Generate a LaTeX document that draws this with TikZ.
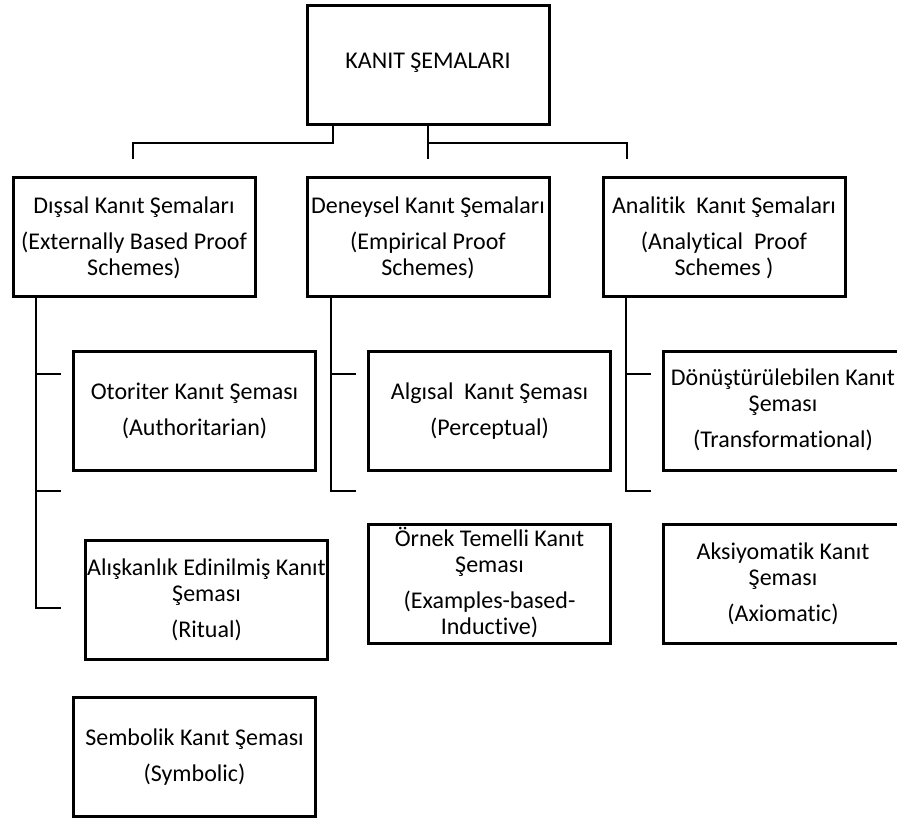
\documentclass[tikz,border=0pt]{standalone}
\usepackage{fontspec}
\setmainfont{Carlito}[Ligatures={NoCommon}]
\begin{document}
\begin{tikzpicture}[x=1pt,y=-1pt,
  box/.style={draw,line width=3pt,inner sep=0pt,outer sep=0pt,minimum width=242pt,minimum height=119pt},
  txt/.style={align=center,font=\fontsize{24}{26}\selectfont,inner sep=0pt},
  conn/.style={line width=2pt}]
\useasboundingbox (0,0) rectangle (897,821);
\clip (0,0) rectangle (897,821);
% boxes
\node[box] (top) at (428,65) {};
\node[box] (dis) at (134,237) {};
\node[box] (dey) at (428,237) {};
\node[box] (ana) at (724,237) {};
\node[box] (oto) at (194.5,410.5) {};
\node[box] (ali) at (206.5,599.5) {};
\node[box] (sem) at (194.5,757) {};
\node[box] (alg) at (489.5,410.5) {};
\node[box] (orn) at (489.5,583.5) {};
\node[box] (don) at (784.5,410.5) {};
\node[box] (aks) at (784.5,583.5) {};
% texts
\node[txt] (ttop) at (428,63) {KANIT ŞEMALARI};
\node[txt] (tdis) at (134,238) {Dışsal Kanıt Şemaları\\[10pt](Externally Based Proof\\Schemes)};
\node[txt] (tdey) at (428,238) {Deneysel Kanıt Şemaları\\[10pt](Empirical Proof\\Schemes)};
\node[txt] (tana) at (724,238) {Analitik\ \ Kanıt Şemaları\\[10pt](Analytical\ \ Proof\\Schemes )};
\node[txt] (toto) at (194.5,411) {Otoriter Kanıt Şeması\\[10pt](Authoritarian)};
\node[txt] (tali) at (206.5,600) {Alışkanlık Edinilmiş Kanıt\\Şeması\\[10pt](Ritual)};
\node[txt] (tsem) at (194.5,757) {Sembolik Kanıt Şeması\\[10pt](Symbolic)};
\node[txt] (talg) at (489.5,411) {Algısal\ \ Kanıt Şeması\\[10pt](Perceptual)};
\node[txt] (torn) at (489.5,583) {Örnek Temelli Kanıt\\Şeması\\[10pt](Examples-based-\\Inductive)};
\node[txt] (tdon) at (783,410) {Dönüştürülebilen Kanıt\\Şeması\\[10pt](Transformational)};
\node[txt] (taks) at (783,584) {Aksiyomatik Kanıt\\Şeması\\[10pt](Axiomatic)};
% coordinates
\coordinate (j1) at (333,143);
\coordinate (j2) at (428,143);
\coordinate (t1) at (133,159);
\coordinate (t2) at (428,159);
\coordinate (t3) at (627,159);
\coordinate (lt) at (36,0);
\coordinate (lb1) at (61,374);
\coordinate (lb2) at (61,491);
\coordinate (lb3) at (61,608);
\coordinate (mt) at (331,0);
\coordinate (mb1) at (356,374);
\coordinate (mb2) at (356,491);
\coordinate (rt) at (626,0);
\coordinate (rb1) at (651,374);
\coordinate (rb2) at (651,491);
% connectors
\draw[conn] (top.south -| j1) -- (j1) -| (t1);
\draw[conn] (top.south) -- (t2);
\draw[conn] (j2) -| (t3);
\draw[conn] (dis.south -| lt) |- (lb3);
\draw[conn] (lb1 -| lt) -- (lb1);
\draw[conn] (lb2 -| lt) -- (lb2);
\draw[conn] (dey.south -| mt) |- (mb2);
\draw[conn] (mb1 -| mt) -- (mb1);
\draw[conn] (ana.south -| rt) |- (rb2);
\draw[conn] (rb1 -| rt) -- (rb1);
\end{tikzpicture}
\end{document}
